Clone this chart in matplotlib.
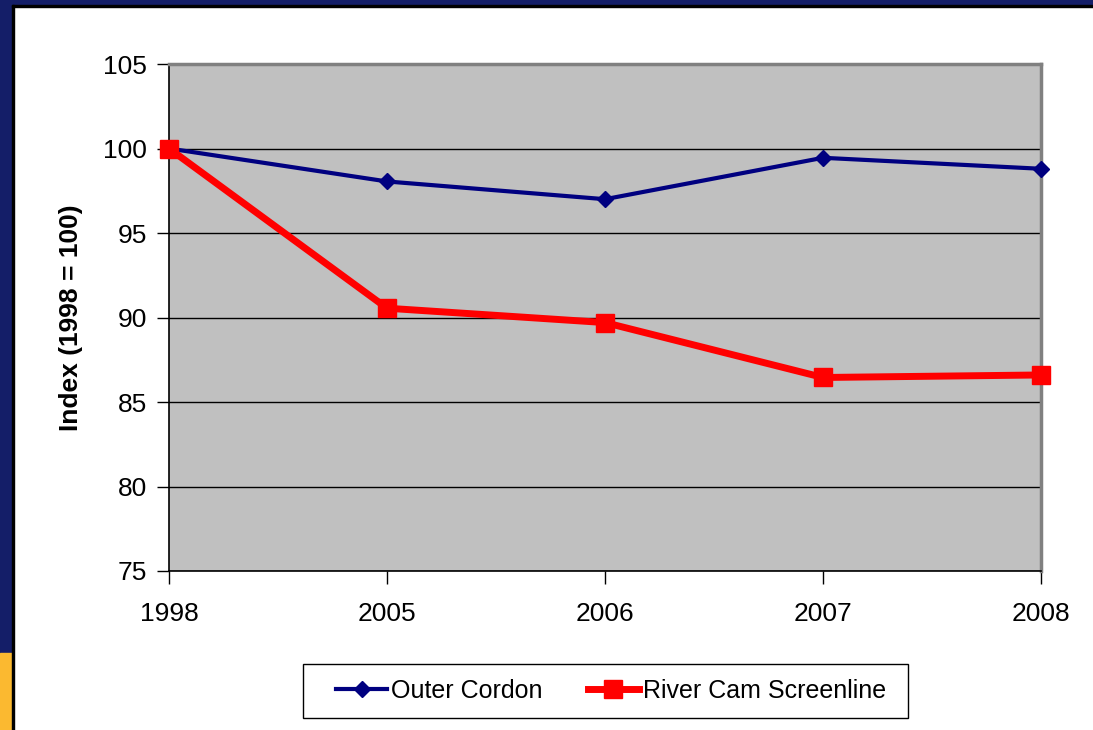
import matplotlib.pyplot as plt
from matplotlib.patches import Rectangle

years = ['1998', '2005', '2006', '2007', '2008']
outer_cordon = [100, 98.05, 97.0, 99.45, 98.8]
river_cam = [100, 90.55, 89.7, 86.45, 86.6]

plt.rcParams['font.family'] = ['Liberation Sans', 'DejaVu Sans']

fig = plt.figure(figsize=(10.93, 7.30), dpi=100)
W, H = 1093, 730

# slide background frame + legend box, in pixel coords
def px_rect(x0, y0, x1, y1, **kw):
    fig.patches.append(Rectangle((x0 / W, 1 - y1 / H), (x1 - x0) / W, (y1 - y0) / H,
                                 transform=fig.transFigure, **kw))

px_rect(0, 0, W, 5, color='#141E68', zorder=0)
px_rect(0, 0, 12, H, color='#141E68', zorder=0)
px_rect(0, 653, 12, H, color='#FBB930', zorder=0)
px_rect(12, 5, W, 7, color='#000000', zorder=0)
px_rect(12, 5, 14, H, color='#000000', zorder=0)
px_rect(303, 664, 908, 718, facecolor='white', edgecolor='black', lw=1, zorder=1)

ax = fig.add_axes([169 / W, 1 - 571 / H, (1041 - 169) / W, (571 - 64) / H])
ax.set_facecolor('#C0C0C0')

x = list(range(len(years)))
ax.plot(x, outer_cordon, color='#000080', lw=3, marker='D', ms=8,
        label='Outer Cordon', clip_on=False, zorder=3)
ax.plot(x, river_cam, color='#FF0000', lw=5, marker='s', ms=13,
        label='River Cam Screenline', clip_on=False, zorder=4)

ax.set_xlim(0, 4)
ax.set_ylim(75, 105)
ax.set_yticks(range(75, 106, 5))
ax.set_xticks(x)
ax.set_xticklabels(years)
ax.yaxis.grid(True, color='black', lw=1)
ax.set_axisbelow(True)
ax.tick_params(axis='both', labelsize=19, length=9, width=1, color='black', direction='out')
ax.tick_params(axis='x', pad=13)
ax.tick_params(axis='y', pad=7)

for s in ['top', 'right']:
    ax.spines[s].set_color('#808080')
    ax.spines[s].set_linewidth(2.5)
for s in ['left', 'bottom']:
    ax.spines[s].set_color('black')
    ax.spines[s].set_linewidth(1.2)

ax.set_ylabel('Index (1998 = 100)', fontsize=19, fontweight='bold', labelpad=14)

leg = fig.legend(loc='center', bbox_to_anchor=(611 / W, 1 - 691 / H), ncol=2,
                 fontsize=18, frameon=False, handlelength=2.05, columnspacing=1.8,
                 handletextpad=0.15, borderpad=0, borderaxespad=0)
leg.set_zorder(2)

fig.savefig('out.png', dpi=100)
